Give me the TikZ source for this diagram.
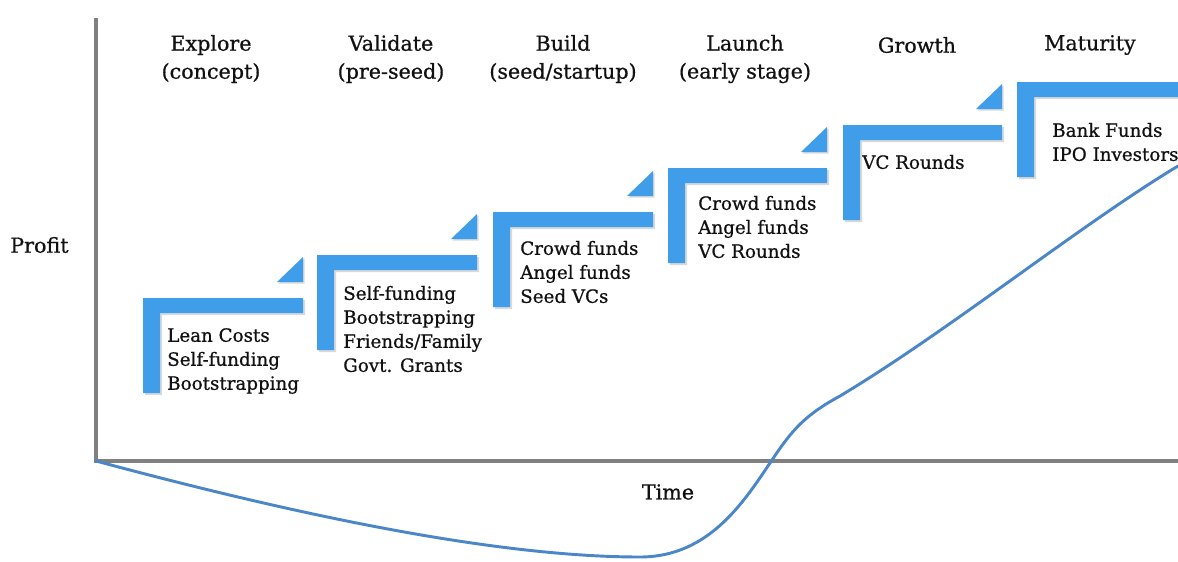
\documentclass[tikz,border=0pt]{standalone}
\usepackage{fontspec}
\setmainfont{DejaVu Serif}[FakeBold=0.7]
\definecolor{stepblue}{HTML}{3F9DEA}
\definecolor{curveblue}{HTML}{4A86C8}
\definecolor{axisgray}{HTML}{808080}
\definecolor{txt}{HTML}{111111}
\begin{document}
\begin{tikzpicture}[x=0.75pt,y=-0.75pt,
  body/.style={font=\fontsize{13.7}{18}\selectfont, align=left, inner sep=0pt, anchor=west, text=txt},
  head/.style={font=\fontsize{15.5}{21}\selectfont, align=center, inner sep=0pt, text=txt},
  stepfill/.style={fill=stepblue},
  stepshadow/.style={fill=black, opacity=0.15},
  axis/.style={draw=axisgray, line width=2.3pt},
  curve/.style={draw=curveblue, line width=2.2pt, line cap=round}]
\useasboundingbox (0,0) rectangle (1178,561);
% axes
\coordinate (origin) at (96,461);
\coordinate (ytop) at (96,18);
\coordinate (xend) at (1178,461);
\draw[axis] (ytop) -- (origin) -- (xend);
% steps
\foreach \x/\y/\w in {143/298/160, 317/255/160, 493/212/160, 668/168/159, 843/125/159, 1017/82/161}{
  \fill[stepshadow] (\x+2,\y+2) -- (\x+\w+2,\y+2) -- (\x+\w+2,\y+17) -- (\x+19,\y+17) -- (\x+19,\y+97) -- (\x+2,\y+97) -- cycle;
  \fill[stepfill] (\x,\y) -- (\x+\w,\y) -- (\x+\w,\y+15) -- (\x+17,\y+15) -- (\x+17,\y+95) -- (\x,\y+95) -- cycle;
}
\foreach \x/\y in {303/298, 477/255, 653/212, 827/168, 1002/125}{
  \fill[stepshadow] (\x-26+1.5,\y-16+1.5) -- (\x+1.5,\y-16+1.5) -- (\x+1.5,\y-41+1.5) -- cycle;
  \fill[stepfill] (\x-26,\y-16) -- (\x,\y-16) -- (\x,\y-41) -- cycle;
}
% step texts
\node[body] (t1) at (167,361) {Lean Costs\\Self-funding\\Bootstrapping};
\node[body] (t2) at (343,329) {Self-funding\\Bootstrapping\\Friends/Family\\Govt. Grants};
\node[body] (t3) at (520,272) {Crowd funds\\Angel funds\\Seed VCs};
\node[body] (t4) at (698,227) {Crowd funds\\Angel funds\\VC Rounds};
\node[body] (t5) at (862,162) {VC Rounds};
\node[body] (t6) at (1052,142) {Bank Funds\\IPO Investors};
% headings
\node[head] (h1) at (211,59) {Explore\\(concept)};
\node[head] (h2) at (391,59) {Validate\\(pre-seed)};
\node[head] (h3) at (563,59) {Build\\(seed/startup)};
\node[head] (h4) at (745,59) {Launch\\(early stage)};
\node[head] (h5) at (917,45) {Growth};
\node[head] (h6) at (1090,45) {Maturity};
% axis labels
\node[head, anchor=west] (profit) at (10,245) {Profit};
\node[head] (time) at (668,492) {Time};
% curve
\coordinate (cmin) at (640,557);
\coordinate (ccross) at (772,460);
\coordinate (cknee) at (840,396);
\coordinate (cend) at (1178,166);
\draw[curve] (origin) .. controls (260,505) and (480,557) .. (cmin)
  .. controls (710,557) and (745,500) .. (ccross)
  .. controls (792,430) and (805,415) .. (cknee)
  .. controls (950,330) and (1080,225) .. (cend);
\end{tikzpicture}
\end{document}
